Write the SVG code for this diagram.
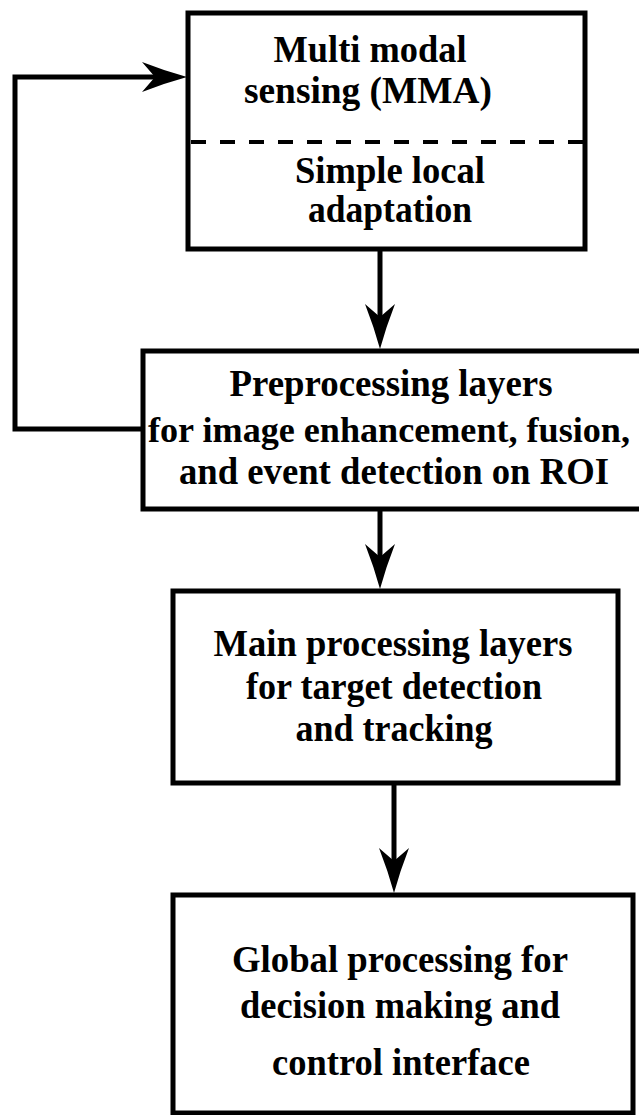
<svg xmlns="http://www.w3.org/2000/svg" width="639" height="1115" viewBox="0 0 639 1115">
<style>
.box{fill:#fff;stroke:#000;stroke-width:5}
.lbl{font-family:"Liberation Serif","Times New Roman",serif;font-weight:bold;font-size:38px;fill:#000;text-anchor:middle}
.con{fill:none;stroke:#000;stroke-width:5}
.dash{fill:none;stroke:#000;stroke-width:4;stroke-dasharray:15 14}
</style>
<defs>
<marker id="ah" viewBox="-46 -16 47 32" refX="-20" refY="0" markerWidth="47" markerHeight="32" orient="auto" markerUnits="userSpaceOnUse">
<path d="M0,0 Q-22,-6 -45,-15 L-32,0 L-45,15 Q-22,6 0,0 Z" fill="#000"/>
</marker>
</defs>
<rect width="639" height="1115" fill="#fff"/>
<g id="connectors">
<path class="con" d="M380,249 L380,329" marker-end="url(#ah)"/>
<path class="con" d="M380,509 L380,569" marker-end="url(#ah)"/>
<path class="con" d="M394,783 L394,873" marker-end="url(#ah)"/>
<path class="con" d="M143,429 L15,429 L15,77 L167,77" marker-end="url(#ah)"/>
</g>
<g id="node-sensing">
<rect class="box" x="188" y="13" width="397" height="236"/>
<line class="dash" x1="191" y1="142" x2="583" y2="142"/>
<text class="lbl" x="370" y="62" textLength="193" lengthAdjust="spacingAndGlyphs">Multi modal</text>
<text class="lbl" x="368" y="103" textLength="248" lengthAdjust="spacingAndGlyphs">sensing (MMA)</text>
<text class="lbl" x="390" y="183" textLength="190" lengthAdjust="spacingAndGlyphs">Simple local</text>
<text class="lbl" x="390" y="222" textLength="164" lengthAdjust="spacingAndGlyphs">adaptation</text>
</g>
<g id="node-preprocessing">
<rect class="box" x="143" y="351" width="500" height="158"/>
<text class="lbl" x="391" y="396" textLength="323" lengthAdjust="spacingAndGlyphs">Preprocessing layers</text>
<text class="lbl" x="389" y="442" style="font-size:36px" textLength="482" lengthAdjust="spacingAndGlyphs">for image enhancement, fusion,</text>
<text class="lbl" x="394" y="484" textLength="430" lengthAdjust="spacingAndGlyphs">and event detection on ROI</text>
</g>
<g id="node-main">
<rect class="box" x="173" y="591" width="445" height="192"/>
<text class="lbl" x="393" y="656" textLength="359" lengthAdjust="spacingAndGlyphs">Main processing layers</text>
<text class="lbl" x="394" y="699" textLength="296" lengthAdjust="spacingAndGlyphs">for target detection</text>
<text class="lbl" x="394" y="741" textLength="197" lengthAdjust="spacingAndGlyphs">and tracking</text>
</g>
<g id="node-global">
<rect class="box" x="173" y="895" width="460" height="218"/>
<text class="lbl" x="400" y="972" textLength="336" lengthAdjust="spacingAndGlyphs">Global processing for</text>
<text class="lbl" x="400" y="1018" textLength="320" lengthAdjust="spacingAndGlyphs">decision making and</text>
<text class="lbl" x="401" y="1075" textLength="258" lengthAdjust="spacingAndGlyphs">control interface</text>
</g>
</svg>
